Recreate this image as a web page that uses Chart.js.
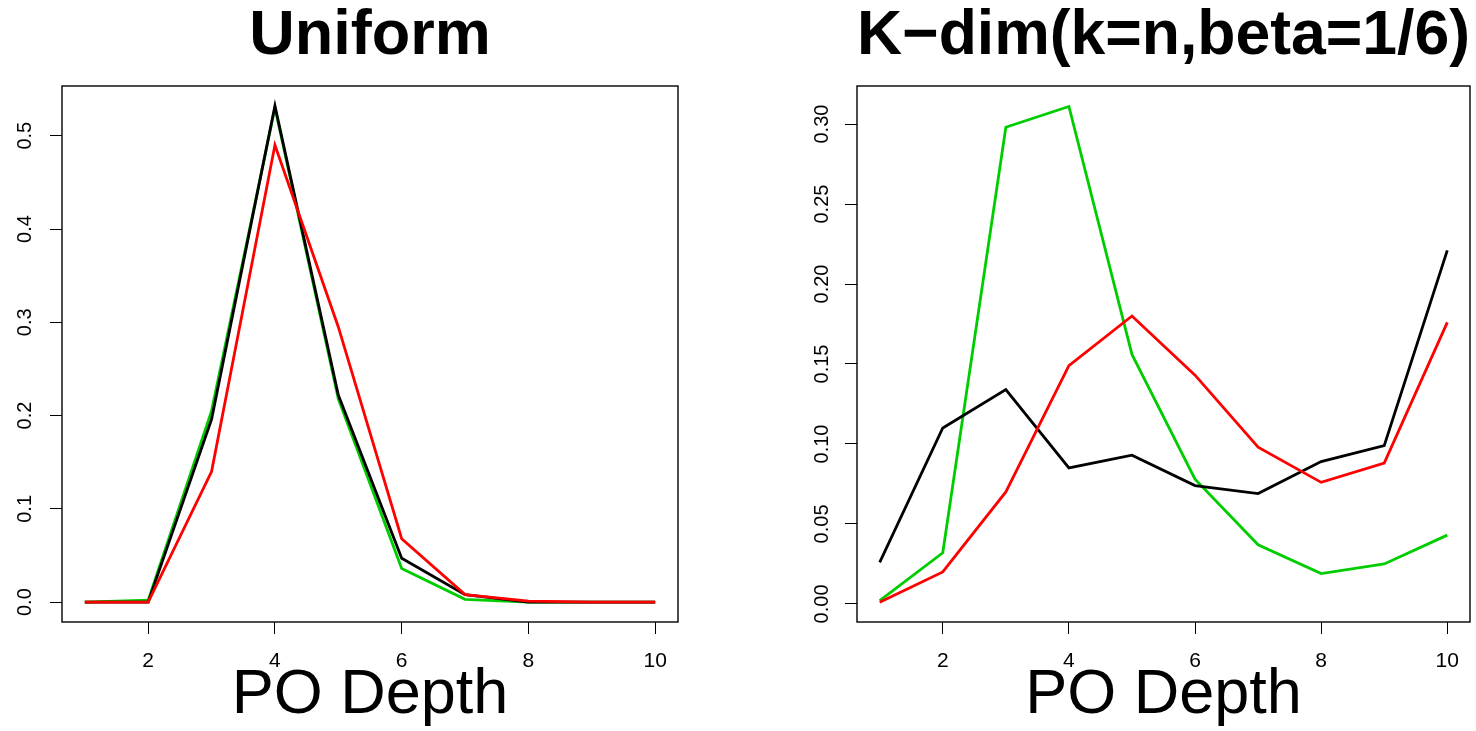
<!DOCTYPE html>
<html>
<head>
<meta charset="utf-8">
<script src="https://cdn.jsdelivr.net/npm/chart.js@4"></script>
<style>
  html, body { margin: 0; padding: 0; background: #fff; }
  #wrap { position: relative; width: 1476px; height: 731px; }
  canvas { position: absolute; top: 0; }
</style>
</head>
<body>
<div id="wrap">
  <canvas id="chart_uniform" width="738" height="731" style="left:0px"></canvas>
  <canvas id="chart_kdim" width="738" height="731" style="left:738px"></canvas>
</div>
<script>
// x positions (PO depth)
const depth = [1, 2, 3, 4, 5, 6, 7, 8, 9, 10];
const xTicks = [2, 4, 6, 8, 10];

// left panel: Uniform
const uniformBlack = [0, 0, 0.196, 0.532, 0.222, 0.047, 0.008, 0, 0, 0];
const uniformGreen = [0, 0.002, 0.205, 0.530, 0.218, 0.036, 0.003, 0, 0, 0];
const uniformRed   = [0, 0, 0.140, 0.490, 0.295, 0.068, 0.008, 0.001, 0, 0];
const uniformYTicks  = [0, 0.1, 0.2, 0.3, 0.4, 0.5];
const uniformYLabels = ["0.0", "0.1", "0.2", "0.3", "0.4", "0.5"];

// right panel: K-dim
const kdimBlack = [0.026, 0.110, 0.134, 0.085, 0.093, 0.074, 0.069, 0.089, 0.099, 0.221];
const kdimGreen = [0.002, 0.032, 0.298, 0.311, 0.156, 0.078, 0.037, 0.019, 0.025, 0.043];
const kdimRed   = [0.001, 0.020, 0.070, 0.149, 0.180, 0.143, 0.098, 0.076, 0.088, 0.176];
const kdimYTicks  = [0, 0.05, 0.10, 0.15, 0.20, 0.25, 0.30];
const kdimYLabels = ["0.00", "0.05", "0.10", "0.15", "0.20", "0.25", "0.30"];

const FONT = "'Liberation Sans', Arial, Helvetica, sans-serif";
Chart.defaults.color = "#000";
Chart.defaults.font.family = FONT;

function pts(values) {
    return depth.map(function (d, i) { return { x: d, y: values[i] }; });
}

// box round the plot + rotated y tick labels, like R base graphics
const rBoxPlugin = {
    id: "rBox",
    afterDraw: function (chart, args, opts) {
        const ctx = chart.ctx;
        const a = chart.chartArea;
        const ys = chart.scales.y;
        ctx.save();
        ctx.strokeStyle = "#000";
        ctx.lineWidth = 1.4;
        ctx.strokeRect(a.left, a.top, a.right - a.left, a.bottom - a.top);
        ctx.fillStyle = "#000";
        ctx.font = "20px " + FONT;
        ctx.textAlign = "center";
        ctx.textBaseline = "alphabetic";
        opts.values.forEach(function (v, i) {
            const y = ys.getPixelForValue(v);
            ctx.save();
            ctx.translate(a.left - opts.labelGap, y);
            ctx.rotate(-Math.PI / 2);
            ctx.fillText(opts.labels[i], 0, 0);
            ctx.restore();
        });
        ctx.restore();
    }
};

function makeChart(id, cfg) {
    return new Chart(id, {
        type: "line",
        data: {
            datasets: [
                { label: "red", data: pts(cfg.red), borderColor: "#FF0000" },
                { label: "black", data: pts(cfg.black), borderColor: "#000000" },
                { label: "green", data: pts(cfg.green), borderColor: "#00CD00" },
            ],
        },
        options: {
            responsive: false,
            animation: false,
            layout: { padding: { left: 0, right: cfg.padRight, top: 0, bottom: 0 } },
            elements: {
                line: { borderWidth: 2.8, tension: 0, fill: false },
                point: { radius: 0, hoverRadius: 0 },
            },
            plugins: {
                legend: { display: false },
                tooltip: { enabled: false },
                title: {
                    display: true,
                    text: cfg.title,
                    fullSize: false,
                    color: "#000",
                    font: { size: 63, weight: "bold", lineHeight: 1 },
                    padding: { top: 5, bottom: 18 },
                },
                rBox: { values: cfg.yTicks, labels: cfg.yLabels, labelGap: cfg.labelGap },
            },
            scales: {
                x: {
                    type: "linear",
                    min: 0.64,
                    max: 10.36,
                    afterBuildTicks: function (s) { s.ticks = xTicks.map(function (v) { return { value: v }; }); },
                    afterFit: function (s) { s.height = 109; },
                    border: { display: false },
                    grid: { drawOnChartArea: false, drawTicks: true, tickLength: 12, color: "#000", lineWidth: 1 },
                    ticks: { font: { size: 21 }, padding: 15, maxRotation: 0, autoSkip: false },
                    title: {
                        display: true,
                        text: "PO Depth",
                        font: { size: 63, lineHeight: 1 },
                        padding: { top: 0, bottom: 4 },
                    },
                },
                y: {
                    type: "linear",
                    min: cfg.yMin,
                    max: cfg.yMax,
                    afterBuildTicks: function (s) { s.ticks = cfg.yTicks.map(function (v) { return { value: v }; }); },
                    afterFit: function (s) { s.width = cfg.yWidth; },
                    border: { display: false },
                    grid: { drawOnChartArea: false, drawTicks: true, tickLength: 12, color: "#000", lineWidth: 1 },
                    ticks: { display: false },
                },
            },
        },
        plugins: [rBoxPlugin],
    });
}

makeChart("chart_uniform", {
    title: "Uniform",
    black: uniformBlack, green: uniformGreen, red: uniformRed,
    yTicks: uniformYTicks, yLabels: uniformYLabels,
    yMin: -0.0213, yMax: 0.5533,
    yWidth: 62, padRight: 60, labelGap: 31,
});

makeChart("chart_kdim", {
    title: "K\u2212dim(k=n,beta=1/6)",
    black: kdimBlack, green: kdimGreen, red: kdimRed,
    yTicks: kdimYTicks, yLabels: kdimYLabels,
    yMin: -0.0113, yMax: 0.3238,
    yWidth: 119, padRight: 6, labelGap: 29,
});
</script>
</body>
</html>
